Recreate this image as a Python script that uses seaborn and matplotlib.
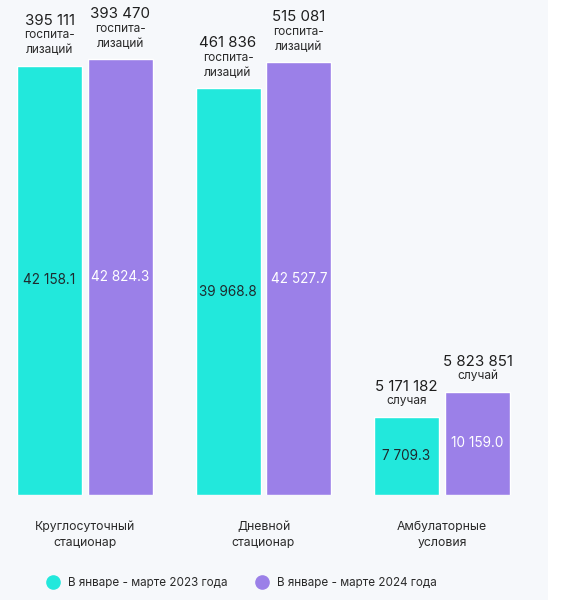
import pandas as pd
import seaborn as sns
import matplotlib.pyplot as plt
from matplotlib.patches import Rectangle
from matplotlib.lines import Line2D

# data
categories = ["Круглосуточный\nстационар", "Дневной\nстационар", "Амбулаторные\nусловия"]
periods = ["В январе - марте 2023 года", "В январе - марте 2024 года"]
values_2023 = [42158.1, 39968.8, 7709.3]
values_2024 = [42824.3, 42527.7, 10159.0]
top_2023 = ["395 111\nгоспита-\nлизаций", "461 836\nгоспита-\nлизаций", "5 171 182\nслучая"]
top_2024 = ["393 470\nгоспита-\nлизаций", "515 081\nгоспита-\nлизаций", "5 823 851\nслучай"]

colors = ["#22E8DC", "#9B80E8"]

df = pd.DataFrame({
    "cat": categories * 2,
    "period": [periods[0]] * 3 + [periods[1]] * 3,
    "value": values_2023 + values_2024,
})

sns.set_theme(style="white")
plt.rcParams["font.family"] = ["Inter", "DejaVu Sans"]

fig = plt.figure(figsize=(5.71, 6.0), dpi=100)
fig.patch.set_facecolor("white")
fig.patches.append(Rectangle((0, 0), 548 / 571, 1, transform=fig.transFigure,
                             facecolor="#F6F8FB", edgecolor="none", zorder=-10))

ax = fig.add_axes([0, 105 / 600, 548 / 571, 495 / 600])
ax.set_facecolor("none")

sns.barplot(data=df, x="cat", y="value", hue="period", palette=colors,
            width=0.7955, gap=0.0845, saturation=1, ax=ax, legend=False)

ax.set_xlim(-85 / 178.5, (548 - 85) / 178.5)
ax.set_ylim(0, 495 * 42158.1 / 429)

px = 0.72  # points per pixel at dpi 100

# labels inside bars and above bars
for i, (cont, tops) in enumerate(zip(ax.containers, [top_2023, top_2024])):
    txt_color = "#1E2A2E" if i == 0 else "white"
    for bar, v, t in zip(cont, cont.datavalues, tops):
        cx = bar.get_x() + bar.get_width() / 2
        h = bar.get_height()
        ax.text(cx, h / 2, f"{v:,.1f}".replace(",", " "), ha="center", va="center",
                fontsize=9.8, color=txt_color)
        lines = t.split("\n")
        num, rest = lines[0], lines[1:]
        off = 15.5
        for line in reversed(rest):
            ax.annotate(line, (cx, h), xytext=(0, off * px), textcoords="offset points",
                        ha="center", va="center", fontsize=8.6, color="#2A2A2A")
            off += 15
        off -= 0.5
        ax.annotate(num, (cx, h), xytext=(0, off * px), textcoords="offset points",
                    ha="center", va="center", fontsize=10.8, color="#1E1E1E")

ax.set_xlabel("")
ax.set_ylabel("")
ax.set_yticks([])
ax.tick_params(axis="x", length=0, pad=19, labelsize=8.8, labelcolor="#2A2A2A")
for lab in ax.get_xticklabels():
    lab.set_linespacing(1.35)
sns.despine(ax=ax, left=True, bottom=True)

handles = [Line2D([], [], marker="o", linestyle="", markersize=9.5,
                  markerfacecolor=c, markeredgecolor=c) for c in colors]
fig.legend(handles, periods, loc="center", bbox_to_anchor=(239 / 571, 1 - 583 / 600),
           ncol=2, frameon=False, fontsize=8.4, handletextpad=0.3, columnspacing=2.0,
           labelcolor="#2A2A2A")

plt.savefig("out.png", dpi=100, facecolor=fig.get_facecolor())
